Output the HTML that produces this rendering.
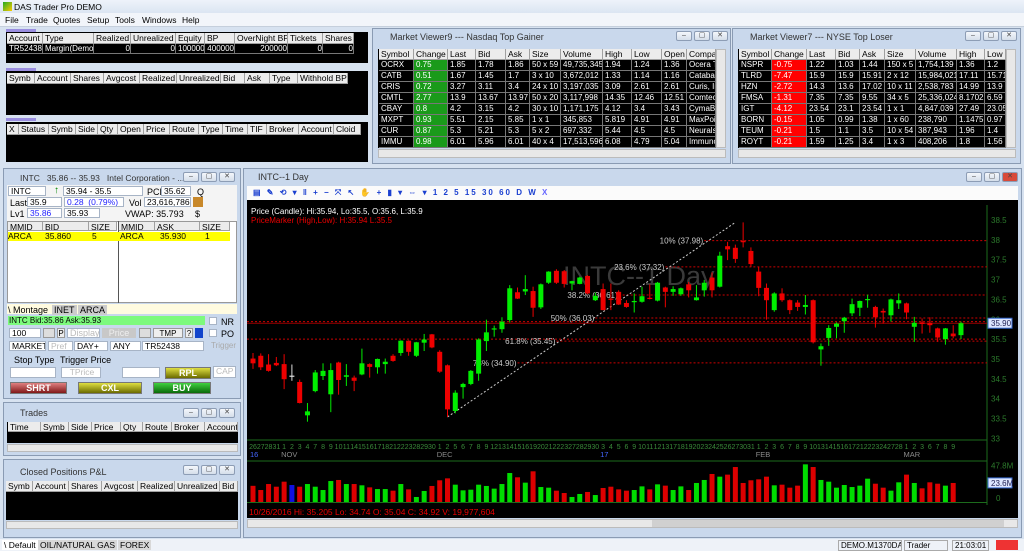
<!DOCTYPE html>
<html><head><meta charset="utf-8">
<style>
*{box-sizing:border-box;margin:0;padding:0}
body{width:1024px;height:551px;overflow:hidden;position:relative;background:#d7e2f0;font-family:"Liberation Sans",sans-serif;font-size:9px;color:#000}
.a{position:absolute}
.hc{position:absolute;background:#ececec;border-right:1px solid #a0a0a0;border-bottom:1px solid #a0a0a0;font-size:8.5px;line-height:10px;padding-left:2px;white-space:nowrap;overflow:hidden;color:#000}
.dc{position:absolute;background:#000;color:#fff;border-right:1px solid #777;border-bottom:1px solid #777;font-size:8px;line-height:10px;padding-left:2px;white-space:nowrap;overflow:hidden}
.blk{position:absolute;background:#000}
.win{position:absolute;background:#c9d8ec;border:1px solid #8a9bb3}
.ttl{position:absolute;font-size:9px;color:#333;white-space:nowrap}
.wb{position:absolute;width:16px;height:10px;border:1px solid #8d9db5;border-radius:2px;background:linear-gradient(#f4f7fb,#d5deea);font-size:7px;text-align:center;line-height:8px;color:#444}
.fld{position:absolute;background:#fff;border:1px solid #a7b4c6;font-size:8.5px;line-height:9px;padding-left:2px;white-space:nowrap;overflow:hidden}
.btn{position:absolute;border:1px solid #777;font-size:9px;text-align:center;font-weight:bold;color:#fff;line-height:11px}
.tab{position:absolute;background:#9a8ee0;height:3px}
.sb{position:absolute;background:#e8e8e8;border:1px solid #bbb}
.mn{position:absolute;top:15px;font-size:8.5px}
</style></head><body>

<!-- title & menu -->
<div class="a" style="left:0;top:0;width:1024px;height:13px;background:linear-gradient(#eef3fa,#dbe5f2)"></div>
<div class="a" style="left:3px;top:2px;width:9px;height:9px;background:linear-gradient(135deg,#2a2,#fc0)"></div>
<div class="a" style="left:14px;top:2px;font-size:8.5px">DAS Trader Pro DEMO</div>
<div class="a" style="left:0;top:13px;width:1024px;height:14px;background:#f2f5fa;border-bottom:1px solid #c5cfdc"></div>
<div class="mn" style="left:5px">File</div>
<div class="mn" style="left:26px">Trade</div>
<div class="mn" style="left:53px">Quotes</div>
<div class="mn" style="left:87px">Setup</div>
<div class="mn" style="left:115px">Tools</div>
<div class="mn" style="left:142px">Windows</div>
<div class="mn" style="left:182px">Help</div>

<!-- account panels -->
<div class="tab" style="left:6px;top:29px;width:30px"></div>
<div class="blk" style="left:6px;top:32px;width:362px;height:31px"></div>
<div class="tab" style="left:6px;top:68px;width:30px"></div>
<div class="blk" style="left:6px;top:71px;width:362px;height:44px"></div>
<div class="tab" style="left:6px;top:118px;width:30px"></div>
<div class="blk" style="left:6px;top:122px;width:362px;height:40px"></div>

<!-- market viewers -->
<div class="win" style="left:372px;top:28px;width:359px;height:136px"></div>
<div class="ttl" style="left:390px;top:32px">Market Viewer9 --- Nasdaq Top Gainer</div>
<div class="win" style="left:732px;top:28px;width:289px;height:136px"></div>
<div class="ttl" style="left:750px;top:32px">Market Viewer7 --- NYSE Top Loser</div>
<div class="blk" style="left:378px;top:49px;width:338px;height:99px"></div>
<div class="blk" style="left:738px;top:49px;width:268px;height:99px"></div>
<div class="sb" style="left:716px;top:49px;width:10px;height:99px"></div>
<div class="sb" style="left:378px;top:149px;width:348px;height:9px"></div>
<div class="sb" style="left:1006px;top:49px;width:10px;height:99px"></div>
<div class="sb" style="left:738px;top:149px;width:278px;height:9px"></div>

<!-- montage -->
<div class="win" style="left:3px;top:168px;width:238px;height:231px"></div>
<div class="ttl" style="left:20px;top:173px;font-size:8.5px">INTC &nbsp;&nbsp;35.86 -- 35.93 &nbsp;&nbsp;Intel Corporation - ...</div>
<div class="a" style="left:7px;top:185px;width:230px;height:36px;background:#f4f4f4"></div>
<div class="fld" style="left:8px;top:186px;width:38px;height:10px">INTC</div>
<div class="a" style="left:54px;top:185px;color:#080;font-size:10px;font-weight:bold">↑</div>
<div class="fld" style="left:63px;top:186px;width:80px;height:10px">35.94 - 35.5</div>
<div class="a" style="left:147px;top:187px">PCL</div>
<div class="fld" style="left:161px;top:186px;width:30px;height:10px">35.62</div>
<div class="a" style="left:197px;top:187px">Q</div>
<div class="a" style="left:10px;top:198px">Last</div>
<div class="fld" style="left:27px;top:197px;width:35px;height:10px">35.9</div>
<div class="fld" style="left:64px;top:197px;width:60px;height:10px;color:#22f">0.28 &nbsp;(0.79%)</div>
<div class="a" style="left:129px;top:198px">Vol</div>
<div class="fld" style="left:144px;top:197px;width:47px;height:10px">23,616,786</div>
<div class="a" style="left:193px;top:197px;width:10px;height:10px;background:#c8882a"></div>
<div class="a" style="left:10px;top:209px">Lv1</div>
<div class="fld" style="left:27px;top:208px;width:35px;height:10px;color:#22f">35.86</div>
<div class="fld" style="left:64px;top:208px;width:36px;height:10px">35.93</div>
<div class="a" style="left:125px;top:209px">VWAP: 35.793</div>
<div class="a" style="left:195px;top:209px">$</div>
<div class="a" style="left:7px;top:221px;width:230px;height:82px;background:#fff;border:1px solid #999"></div>
<div class="a" style="left:118px;top:221px;width:1px;height:82px;background:#555"></div>
<div class="a" style="left:8px;top:232px;width:222px;height:9px;background:#ffff00"></div>
<div class="a" style="left:7px;top:304px;width:230px;height:10px;background:#fffbe0"></div>
<div class="a" style="left:8px;top:305px">\ Montage</div>
<div class="a" style="left:52px;top:305px;background:#ccc;padding:0 2px">INET</div>
<div class="a" style="left:78px;top:305px;background:#ccc;padding:0 2px">ARCA</div>
<div class="a" style="left:8px;top:316px;width:197px;height:9px;background:#7dfa7d;font-size:8px;line-height:9px;padding-left:1px">INTC Bid:35.86 Ask:35.93</div>
<div class="fld" style="left:209px;top:317px;width:8px;height:8px"></div>
<div class="a" style="left:221px;top:317px">NR</div>
<div class="fld" style="left:9px;top:328px;width:32px;height:10px">100</div>
<div class="a" style="left:43px;top:328px;width:12px;height:10px;background:#ddd;border:1px solid #999"></div>
<div class="a" style="left:57px;top:328px;width:8px;height:10px;background:#eee;border:1px solid #999;text-align:center;font-size:8px">P</div>
<div class="fld" style="left:67px;top:328px;width:33px;height:10px;color:#bbb;font-size:9px">Display</div>
<div class="a" style="left:102px;top:328px;width:34px;height:10px;background:#c8c8c8;color:#eee;text-align:center;font-size:9px;line-height:10px">Price</div>
<div class="a" style="left:139px;top:328px;width:12px;height:10px;background:#ddd;border:1px solid #999"></div>
<div class="a" style="left:153px;top:328px;width:30px;height:10px;background:#eee;border:1px solid #999;text-align:center;font-size:8px">TMP</div>
<div class="a" style="left:185px;top:328px;width:8px;height:10px;background:#eee;border:1px solid #999;text-align:center;font-size:8px">?</div>
<div class="a" style="left:195px;top:328px;width:8px;height:10px;background:#14c"></div>
<div class="fld" style="left:209px;top:329px;width:8px;height:8px"></div>
<div class="a" style="left:221px;top:329px">PO</div>
<div class="fld" style="left:9px;top:341px;width:37px;height:10px">MARKET</div>
<div class="fld" style="left:48px;top:341px;width:25px;height:10px;color:#bbb">Pref</div>
<div class="fld" style="left:74px;top:341px;width:34px;height:10px">DAY+</div>
<div class="fld" style="left:110px;top:341px;width:31px;height:10px">ANY</div>
<div class="fld" style="left:142px;top:341px;width:62px;height:10px">TR52438</div>
<div class="a" style="left:211px;top:341px;color:#aaa;font-size:8px">Trigger</div>
<div class="a" style="left:14px;top:355px">Stop Type</div>
<div class="a" style="left:60px;top:355px">Trigger Price</div>
<div class="fld" style="left:10px;top:367px;width:46px;height:11px"></div>
<div class="fld" style="left:61px;top:367px;width:40px;height:11px;color:#bbb;text-align:center">TPrice</div>
<div class="fld" style="left:122px;top:367px;width:38px;height:11px"></div>
<div class="btn" style="left:165px;top:367px;width:46px;height:12px;background:linear-gradient(#dede40,#6b6b00)">RPL</div>
<div class="fld" style="left:213px;top:366px;width:23px;height:12px;color:#bbb">CAP</div>
<div class="btn" style="left:10px;top:382px;width:57px;height:12px;background:linear-gradient(#e08080,#801818)">SHRT</div>
<div class="btn" style="left:78px;top:382px;width:64px;height:12px;background:linear-gradient(#dede40,#6b6b00)">CXL</div>
<div class="btn" style="left:153px;top:382px;width:58px;height:12px;background:linear-gradient(#40d040,#0a6a0a)">BUY</div>

<!-- trades -->
<div class="win" style="left:3px;top:402px;width:238px;height:54px"></div>
<div class="ttl" style="left:20px;top:408px">Trades</div>
<div class="blk" style="left:7px;top:422px;width:231px;height:21px"></div>
<div class="sb" style="left:7px;top:444px;width:231px;height:8px"></div>
<!-- closed positions -->
<div class="win" style="left:3px;top:459px;width:238px;height:79px"></div>
<div class="ttl" style="left:20px;top:467px">Closed Positions P&amp;L</div>
<div class="blk" style="left:6px;top:481px;width:232px;height:39px"></div>
<div class="sb" style="left:6px;top:521px;width:232px;height:8px"></div>
<!-- bottom tabs -->
<div class="a" style="left:0;top:539px;width:1024px;height:12px;background:#eef2f8"></div>
<div class="a" style="left:2px;top:540px;font-size:8.5px;background:#fff;padding:0 2px">\ Default</div>
<div class="a" style="left:38px;top:540px;font-size:8.5px;background:#d8d8d8;padding:0 2px">OIL/NATURAL GAS</div>
<div class="a" style="left:118px;top:540px;font-size:8.5px;background:#d8d8d8;padding:0 2px">FOREX</div>
<div class="a" style="left:838px;top:540px;font-size:8px;border:1px solid #aaa;padding:0 2px;width:64px;overflow:hidden;white-space:nowrap">DEMO.M1370DAS</div>
<div class="a" style="left:904px;top:540px;font-size:8px;border:1px solid #aaa;padding:0 2px;width:44px">Trader</div>
<div class="a" style="left:952px;top:540px;font-size:8px;border:1px solid #aaa;padding:0 2px">21:03:01</div>
<div class="a" style="left:996px;top:540px;width:22px;height:10px;background:#e33"></div>

<!-- chart window -->
<div class="win" style="left:243px;top:168px;width:779px;height:370px"></div>
<div class="ttl" style="left:258px;top:172px">INTC--1 Day</div>
<div class="a" style="left:247px;top:186px;width:771px;height:14px;background:#fbfbfb;color:#1a3fd0;font-size:8px;line-height:14px;padding-left:6px;letter-spacing:2px;font-weight:bold">▤ ✎ ⟲ ▾ ‖ + − ⤧ ↖ ✋ + ▮ ▾ ⇔ ▾ 1 2 5 15 30 60 D W <span style="color:#66f">X</span></div>
<div class="sb" style="left:247px;top:519px;width:771px;height:9px"></div>
<div class="a" style="left:652px;top:520px;width:352px;height:7px;background:#d0d0d0"></div>

<svg class="a" style="left:247px;top:200px" width="771" height="318" viewBox="247 200 771 318" xmlns="http://www.w3.org/2000/svg" font-family="Liberation Sans, sans-serif">
<rect x="247" y="200" width="771" height="318" fill="#000"/>
<g id="g-grid"></g><g id="g-fib"></g><g id="g-candles"></g><g id="g-vol"></g><g id="g-axis"></g>
</svg>

<script>
// ---- chart data ----
const opens=[35.01,35.08,34.86,34.90,34.87,34.58,34.42,33.58,34.19,34.57,34.11,34.91,34.55,34.53,34.61,34.87,34.79,34.87,35.08,35.15,35.46,35.08,35.41,35.62,35.18,34.84,33.69,34.29,34.37,34.63,35.45,35.74,35.75,35.98,36.68,36.70,36.71,36.30,36.92,37.22,37.21,36.90,36.89,37.09,36.48,36.76,36.52,
36.69,36.41,36.44,36.44,36.54,36.47,36.80,36.69,36.63,36.88,36.48,36.73,37.05,36.82,37.84,37.80,37.97,37.72,37.20,36.79,36.23,36.65,36.48,36.42,36.31,36.48,35.24,35.53,35.81,35.95,36.15,36.29,36.49,36.31,36.21,36.10,36.40,36.40,35.81,35.92,35.91,35.77,35.50,35.64,35.60];
const highs=[35.15,35.14,35.12,35.05,35.12,34.86,34.48,33.89,34.72,34.89,34.89,34.93,34.87,34.58,35.26,34.89,35.01,35.01,35.12,35.47,35.47,35.43,35.63,35.63,35.22,34.86,34.21,34.40,34.72,35.52,35.99,35.84,36.05,36.86,36.80,37.11,36.82,36.90,37.21,37.26,37.24,36.97,37.07,37.11,36.67,36.90,36.90,
36.73,36.48,36.65,36.82,36.88,36.94,36.82,36.83,36.80,36.94,36.86,36.99,37.18,37.70,37.95,37.88,38.44,37.81,37.32,36.90,36.68,36.78,36.50,36.48,36.61,36.50,35.39,35.85,35.92,36.06,36.52,36.47,36.62,36.34,36.27,36.52,36.65,36.42,36.06,36.02,36.05,35.79,35.78,35.85,35.94];
const lows=[34.75,34.72,34.68,34.82,34.24,34.45,33.88,33.42,34.16,34.47,33.66,34.10,34.32,34.19,34.59,34.53,34.63,34.63,34.93,35.08,35.08,35.05,35.20,35.27,34.65,33.54,33.63,34.00,34.34,34.45,35.20,35.56,35.66,35.92,36.51,36.61,36.06,36.26,36.89,36.89,36.80,36.73,36.88,36.63,36.46,36.23,36.23,
36.36,36.29,36.17,36.42,36.50,36.45,36.30,36.59,36.59,36.55,36.47,36.57,36.55,36.80,37.49,37.42,37.81,37.32,36.58,35.99,36.19,36.44,36.13,36.21,36.12,35.39,34.83,35.33,35.52,35.66,36.08,36.08,36.29,35.79,35.89,35.94,36.26,36.00,35.43,35.64,35.66,35.43,35.36,35.52,35.50];
const closes=[34.89,34.79,34.70,34.84,34.49,34.58,33.89,33.68,34.66,34.70,34.72,34.47,34.59,34.45,34.89,34.80,35.00,34.93,34.95,35.46,35.18,35.42,35.49,35.29,34.68,33.73,34.15,34.37,34.70,35.49,35.67,35.77,35.94,36.78,36.52,36.76,36.29,36.88,37.20,36.92,36.89,36.96,37.05,36.65,36.59,36.23,36.50,
36.37,36.31,36.46,36.58,36.52,36.92,36.69,36.76,36.78,36.73,36.55,36.92,36.73,37.60,37.76,37.52,37.95,37.39,36.79,36.48,36.65,36.48,36.23,36.31,36.36,35.42,35.32,35.78,35.89,36.04,36.38,36.46,36.51,36.05,36.17,36.50,36.48,36.17,35.91,35.88,35.85,35.54,35.77,35.57,35.90];
const volumesM=[19.98,14.8,22.2,18.9,25.1,21.0,18.9,22.2,18.9,14.8,25.9,27.2,22.2,22.2,20.6,18.1,16.0,16.0,14.0,22.2,15.6,6.2,13.6,19.8,26.8,29.2,21.4,14.4,15.2,21.4,19.8,16.5,22.2,35.8,30.5,23.9,37.9,18.5,17.7,14.0,11.1,6.2,9.9,12.4,8.6,17.3,18.9,15.6,14.0,14.8,
19.3,15.6,21.8,20.2,14.8,19.3,14.8,23.5,27.2,34.6,31.3,33.8,43.2,23.5,26.8,28.0,31.3,20.6,21.4,17.7,20.2,46.5,43.2,27.2,25.1,17.7,21.0,18.5,20.2,28.8,22.6,17.7,14.0,24.3,33.8,23.5,16.9,24.3,22.6,20.2,23.5];
const dayLabels=["26","27","28","31","1","2","3","4","7","8","9","10","11","14","15","16","17","18","21","22","23","28","29","30","1","2","5","6","7","8","9","12","13","14","15","16","19","20","21","22","23","27","28","29","30","3","4","5","6","9","10","11","12","13","17","18","19","20","23","24","25","26","27","30","31","1","2","3","6","7","8","9","10","13","14","15","16","17","21","22","23","24","27","28","1","2","3","6","7","8","9"];
const monthLabels=["16","NOV","DEC","17","FEB","MAR"];
const monthIdx=[0,4,24,45,65,84];
const priceTicks=[38.5,38,37.5,37,36.5,36,35.5,35,34.5,34,33.5,33];
const fibPct=["10%","23.6%","38.2%","50%","61.8%","73%"];
const fibPrice=[37.98,37.32,36.61,36.03,35.45,34.90];
const fibStartIdx=[58,53,47,44,39,34];
const lastPrice=35.90, dayHigh=35.94, dayLow=35.5, volMax=47.8, volMid=23.6;
const swingLowIdx=25, swingLowPrice=33.54, swingHighIdx=62, swingHighPrice=38.44;

const NS='http://www.w3.org/2000/svg';
const X0=253, DX=7.78, PY0=220, PPX=39.7, VBASE=502, VPX=38.7/47.8;
function xs(i){return X0+i*DX;}
function ys(p){return PY0+(38.5-p)*PPX;}
function yv(v){return VBASE-v*VPX;}
function mk(tag,attrs,parent,text){const e=document.createElementNS(NS,tag);for(const k in attrs)e.setAttribute(k,attrs[k]);if(text!=null)e.textContent=text;parent.appendChild(e);return e;}
const gG=document.getElementById('g-grid'),gF=document.getElementById('g-fib'),gC=document.getElementById('g-candles'),gV=document.getElementById('g-vol'),gA=document.getElementById('g-axis');

let l=mk('line',{x1:987,y1:205,x2:987,y2:505,stroke:'#1c6b1c'},gG);


l=mk('line',{x1:247,y1:440,x2:987,y2:440,stroke:'#1c6b1c'},gG);


l=mk('line',{x1:247,y1:461,x2:987,y2:461,stroke:'#1c6b1c'},gG);


l=mk('line',{x1:247,y1:502.5,x2:987,y2:502.5,stroke:'#1c6b1c'},gG);



let t=mk('text',{x:563,y:285,fill:'#3a3a3a','font-size':27},gG,'INTC--1 Day');


t=mk('text',{x:251,y:214,fill:'#fff','font-size':8},gG,'Price (Candle): Hi:'+dayHigh+', Lo:'+dayLow+', O:35.6, L:'+lastPrice);


t=mk('text',{x:251,y:223,fill:'#e00','font-size':8},gG,'PriceMarker (High,Low): H:'+dayHigh+' L:'+dayLow);



l=mk('line',{x1:247,y1:ys(dayHigh),x2:987,y2:ys(dayHigh),stroke:'#c00','stroke-dasharray':'2,2'},gF);


l=mk('line',{x1:247,y1:ys(dayLow),x2:987,y2:ys(dayLow),stroke:'#c00','stroke-dasharray':'2,2'},gF);


l=mk('line',{x1:247,y1:ys(lastPrice),x2:987,y2:ys(lastPrice),stroke:'#900'},gF);


fibPrice.forEach((p,k)=>{
  const lbl=fibPct[k]+' ('+p.toFixed(2)+')';
  const sx=xs(fibStartIdx[k]);
  const fl=mk('line',{x1:sx,y1:ys(p),x2:987,y2:ys(p),stroke:'#c00','stroke-dasharray':'2,2'},gF);
  
  
  const ft=mk('text',{x:sx-1,y:ys(p)+3,fill:'#ccc','font-size':8,'text-anchor':'end'},gF,lbl);
  
  
});
l=mk('line',{x1:xs(swingLowIdx),y1:ys(swingLowPrice),x2:xs(swingHighIdx),y2:ys(swingHighPrice),stroke:'#ccc','stroke-dasharray':'2,2'},gF);



opens.forEach((o,i)=>{
  const c=closes[i],h=highs[i],lo=lows[i],x=xs(i);
  const col=c>o?'#00ee00':(c<o?'#ee0000':'#dddddd');
  const w=mk('line',{x1:x,y1:ys(h),x2:x,y2:ys(lo),stroke:col},gC);
  
  
  const top=ys(Math.max(o,c)),bh=Math.max(1.2,Math.abs(ys(o)-ys(c)));
  const b=mk('rect',{x:x-2.5,y:top,width:5,height:bh,fill:col},gC);
  
  
});
volumesM.forEach((v,i)=>{
  const col=i===5?'#1010e0':(closes[i]>=opens[i]?'#00dd00':'#dd0000');
  const r=mk('rect',{x:xs(i)-2.5,y:yv(v),width:5,height:VBASE-yv(v),fill:col},gV);
  
  
});
t=mk('text',{x:249,y:515,fill:'#e00','font-size':8.5},gV,'10/26/2016  Hi: 35.205  Lo: 34.74  O: 35.04  C: 34.92  V: 19,977,604');



priceTicks.forEach(p=>{
  const tt=mk('text',{x:991,y:ys(p)+3,fill:'#2c7a2c','font-size':8},gA,String(p));
  
  
});
let pt=mk('rect',{x:988,y:ys(lastPrice)-5,width:24,height:10,fill:'#dde6ff',stroke:'#36c'},gA);


t=mk('text',{x:991,y:ys(lastPrice)+3,fill:'#225','font-size':8},gA,lastPrice.toFixed(2));


t=mk('text',{x:991,y:yv(volMax)+5,fill:'#2c7a2c','font-size':8},gA,volMax+'M');


pt=mk('rect',{x:988,y:yv(volMid)-5,width:24,height:10,fill:'#dde6ff',stroke:'#36c'},gA);


t=mk('text',{x:991,y:yv(volMid)+3,fill:'#225','font-size':8},gA,volMid+'M');


t=mk('text',{x:996,y:501,fill:'#2c7a2c','font-size':8},gA,'0');


dayLabels.forEach((d,i)=>{
  const dt=mk('text',{x:xs(i),y:449,fill:'#3a8a3a','font-size':7,'text-anchor':'middle'},gA,d);
  
  
});
monthLabels.forEach((m,k)=>{
  const blue=(m==='16'||m==='17');
  const mt=mk('text',{x:xs(monthIdx[k])-3,y:457,fill:blue?'#4466ff':'#8a8a8a','font-size':7.5},gA,m);
  
  
});

// ---- tables ----
function cell(cls,x0,x1,y,h,txt,name,inter,bg,color){
  const d=document.createElement('div');
  d.className=cls;
  d.style.cssText='left:'+x0+'px;top:'+y+'px;width:'+(x1-x0)+'px;height:'+h+'px'+(bg?';background:'+bg:'')+(color?';color:'+color:'');
  d.textContent=txt;
  
  
  document.body.appendChild(d);
}
function headers(labels,edges,y,h){labels.forEach((lb,k)=>cell('hc',edges[k],edges[k+1],y,h,lb,'column-header',true));}
headers(['Account','Type','Realized','Unrealized','Equity','BP','OverNight BP','Tickets','Shares'],[7,43,94,131,176,205,235,288,323,354],33,11);
['TR52438','Margin(Demo)','0','0','100000','400000','200000','0','0'].forEach((v,k)=>{
  const e=[7,43,94,131,176,205,235,288,323,354];
  cell('dc',e[k],e[k+1],44,10,v,'account-cell',false,null,null);
});
document.querySelectorAll('.dc').forEach((d,k)=>{if(k>1)d.style.textAlign='right';});
headers(['Symb','Account','Shares','Avgcost','Realized','Unrealized','Bid','Ask','Type','Withhold BP'],[7,35,71,104,140,177,221,245,270,298,348],73,11);
headers(['X','Status','Symb','Side','Qty','Open','Price','Route','Type','Time','TIF','Broker','Account','Cloid'],[7,19,49,76,98,118,144,170,199,223,248,267,299,334,361],124,11);
headers(['Time','Symb','Side','Price','Qty','Route','Broker','Account'],[8,41,69,92,121,143,172,205,238],422,10);
headers(['Symb','Account','Shares','Avgcost','Realized','Unrealized','Bid'],[6,33,69,102,138,175,220,238],481,11);
headers(['MMID','BID','SIZE'],[8,43,89,117],222,9);
headers(['MMID','ASK','SIZE'],[119,155,200,230],222,9);
[['ARCA',8],['35.860',45],['5',92],['ARCA',120],['35.930',160],['1',205]].forEach(v=>{
  const d=document.createElement('div');
  d.className='a';
  d.style.cssText='left:'+v[1]+'px;top:232px;font-size:8.5px;line-height:9px';
  d.textContent=v[0];
  
  
  document.body.appendChild(d);
});

const mvHead9=['Symbol','Change','Last','Bid','Ask','Size','Volume','High','Low','Open','Compa'];
const mvEdge9=[379,414,448,476,506,530,561,603,632,662,687,716];
const mv9=[['OCRX','0.75','1.85','1.78','1.86','50 x 59','49,735,345','1.94','1.24','1.36','Ocera T'],
['CATB','0.51','1.67','1.45','1.7','3 x 10','3,672,012','1.33','1.14','1.16','Catabas'],
['CRIS','0.72','3.27','3.11','3.4','24 x 10','3,197,035','3.09','2.61','2.61','Curis, In'],
['CMTL','2.77','13.9','13.67','13.97','50 x 20','3,117,998','14.35','12.46','12.51','Comtech'],
['CBAY','0.8','4.2','3.15','4.2','30 x 10','1,171,175','4.12','3.4','3.43','CymaBa'],
['MXPT','0.93','5.51','2.15','5.85','1 x 1','345,853','5.819','4.91','4.91','MaxPoin'],
['CUR','0.87','5.3','5.21','5.3','5 x 2','697,332','5.44','4.5','4.5','Neuralst'],
['IMMU','0.98','6.01','5.96','6.01','40 x 4','17,513,596','6.08','4.79','5.04','Immuno']];
const mvHead7=['Symbol','Change','Last','Bid','Ask','Size','Volume','High','Low'];
const mvEdge7=[739,772,807,836,860,885,916,957,985,1006];
const mv7=[['NSPR','-0.75','1.22','1.03','1.44','150 x 5','1,754,139','1.36','1.2'],
['TLRD','-7.47','15.9','15.9','15.91','2 x 12','15,984,021','17.11','15.71'],
['HZN','-2.72','14.3','13.6','17.02','10 x 11','2,538,783','14.99','13.9'],
['FMSA','-1.31','7.35','7.35','9.55','34 x 5','25,336,024','8.1702','6.59'],
['IGT','-4.12','23.54','23.1','23.54','1 x 1','4,847,039','27.49','23.05'],
['BORN','-0.15','1.05','0.99','1.38','1 x 60','238,790','1.1475','0.97'],
['TEUM','-0.21','1.5','1.1','3.5','10 x 54','387,943','1.96','1.4'],
['ROYT','-0.21','1.59','1.25','3.4','1 x 3','408,206','1.8','1.56']];
headers(mvHead9,mvEdge9,49,11);
headers(mvHead7,mvEdge7,49,11);
mv9.forEach((row,r)=>row.forEach((v,k)=>cell('dc',mvEdge9[k],mvEdge9[k+1],60+r*10.94,11,v,'mv9-cell',true,k===1?'#1a9a1a':null,null)));
mv7.forEach((row,r)=>row.forEach((v,k)=>cell('dc',mvEdge7[k],mvEdge7[k+1],60+r*10.94,11,v,'mv7-cell',true,k===1?'#ff0000':null,null)));

[[676,31],[694,31],[712,31],[965,31],[983,31],[1001,31],[183,172],[201,172],[219,172],[183,408],[201,408],[219,408],[183,465],[201,465],[219,465],[966,172],[984,172],[1002,172]].forEach((p,k)=>{
  const b=document.createElement('div');
  b.className='wb';
  b.style.left=p[0]+'px';b.style.top=p[1]+'px';
  if(p[0]===1002&&p[1]===172){b.style.background='#d84a3a';}
  b.textContent=['–','▢','✕'][k%3];
  
  
  document.body.appendChild(b);
});
</script>
</body></html>
